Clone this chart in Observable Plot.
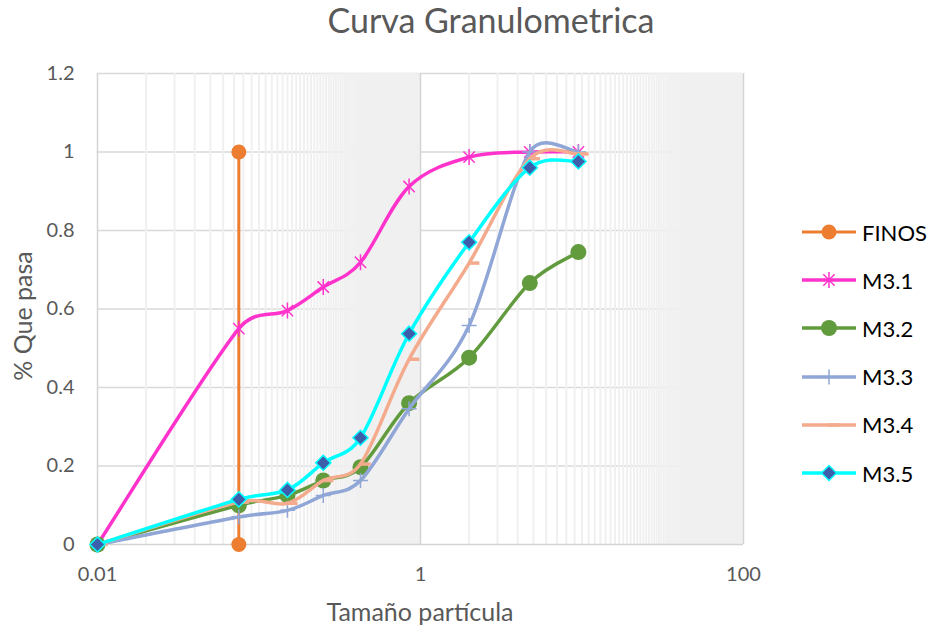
<!DOCTYPE html>
<html>
<head>
<meta charset="utf-8">
<script src="https://cdn.jsdelivr.net/npm/d3@7"></script>
<script src="https://cdn.jsdelivr.net/npm/@observablehq/plot@0.6"></script>
<style>
  body { margin: 0; background: #fff; }
  #chart { position: relative; width: 932px; height: 630px; font-family: Lato, "Open Sans", sans-serif; color: #595959; overflow: hidden; }
  #chart svg.main { position: absolute; left: 0; top: 0; }
  .title { position: absolute; top: -1px; left: 491px; transform: translateX(-50%); font-size: 34px; white-space: nowrap; }
  .xlabel { position: absolute; top: 596px; left: 420px; transform: translateX(-50%); font-size: 25px; white-space: nowrap; }
  .ylabel { position: absolute; left: 22px; top: 316px; transform: translate(-50%, -50%) rotate(-90deg); font-size: 25px; white-space: nowrap; }
  .legend-row { position: absolute; left: 802px; height: 24px; display: flex; align-items: center; color: #000; font-size: 22px; }
  .legend-row svg { display: block; margin-right: 6px; }
</style>
</head>
<body>
<div id="chart"></div>
<script>
// Sieve openings (mm) and fraction passing for each sample
const sizes = [0.01, 0.075, 0.15, 0.25, 0.425, 0.85, 2.0, 4.75, 9.5];
const m31 = [0, 0.55, 0.596, 0.656, 0.719, 0.912, 0.987, 1.0, 1.0];
const m32 = [0, 0.10, 0.125, 0.163, 0.197, 0.36, 0.476, 0.666, 0.745];
const m33 = [0, 0.07, 0.087, 0.125, 0.163, 0.346, 0.558, 1.0, 1.0];
const m34 = [0, 0.108, 0.105, 0.163, 0.205, 0.472, 0.717, 0.983, 0.995];
const m35 = [0, 0.115, 0.139, 0.208, 0.272, 0.537, 0.770, 0.960, 0.976];

// Fines boundary (No. 200 sieve)
const finosX = [0.075, 0.075];
const finosY = [1, 0];

const seriesNames = ["FINOS", "M3.1", "M3.2", "M3.3", "M3.4", "M3.5"];
const xTicks = [0.01, 1, 100];
const yTicks = [0, 0.2, 0.4, 0.6, 0.8, 1, 1.2];

// Minor log gridlines: every 1/100 of a major step
const minorTicks = [
  ...d3.range(2, 100).map(k => k * 0.01),
  ...d3.range(2, 100).map(k => k)
];

// Smoothed line: cubic Bézier through every point, tangent from the two
// neighbours, with each control arm limited to half of its segment.
function smoothCurve(context) {
  let pts = [];
  const dist = (p, q) => Math.hypot(q[0] - p[0], q[1] - p[1]);
  const limit = (t, lim) => {
    const L = Math.hypot(t[0], t[1]);
    const s = L > lim && L > 0 ? lim / L : 1;
    return [t[0] * s, t[1] * s];
  };
  return {
    areaStart() {}, areaEnd() {},
    lineStart() { pts = []; },
    point(x, y) { pts.push([+x, +y]); },
    lineEnd() {
      const n = pts.length;
      if (!n) return;
      context.moveTo(pts[0][0], pts[0][1]);
      if (n === 2) context.lineTo(pts[1][0], pts[1][1]);
      if (n < 3) return;
      const tan = pts.map((p, i) => {
        const a = pts[Math.max(i - 1, 0)], b = pts[Math.min(i + 1, n - 1)];
        return [(b[0] - a[0]) / 6, (b[1] - a[1]) / 6];
      });
      for (let i = 0; i < n - 1; i++) {
        const p = pts[i], q = pts[i + 1], d = dist(p, q);
        const a = limit(tan[i], 0.5 * d), b = limit(tan[i + 1], 0.5 * d);
        context.bezierCurveTo(p[0] + a[0], p[1] + a[1], q[0] - b[0], q[1] - b[1], q[0], q[1]);
      }
    }
  };
}

// Marker shapes
const asteriskSym = {
  draw(ctx, size) {
    const r = Math.sqrt(size / Math.PI), d = r / Math.SQRT2;
    ctx.moveTo(0, -r); ctx.lineTo(0, r);
    ctx.moveTo(-d, -d); ctx.lineTo(d, d);
    ctx.moveTo(-d, d); ctx.lineTo(d, -d);
  }
};
const plusSym = {
  draw(ctx, size) {
    const r = Math.sqrt(size / Math.PI);
    ctx.moveTo(0, -r); ctx.lineTo(0, r);
    ctx.moveTo(-r, 0); ctx.lineTo(r, 0);
  }
};
const dashSym = {
  draw(ctx, size) {
    const r = Math.sqrt(size / Math.PI);
    ctx.rect(-r * 0.2, -1.75, r * 1.9, 3.5);
  }
};

const styles = {
  "FINOS": {color: "#ED7D31", width: 3, symbol: "circle", r: 7.5, fill: "#ED7D31", stroke: "none"},
  "M3.1": {color: "#FF33CC", width: 3.5, symbol: asteriskSym, r: 8, fill: "none", stroke: "#FF33CC", sw: 1.5},
  "M3.2": {color: "#629B3E", width: 3.5, symbol: "circle", r: 8, fill: "#629B3E", stroke: "none"},
  "M3.3": {color: "#8FA6D6", width: 3.5, symbol: plusSym, r: 7.5, fill: "none", stroke: "#8FA6D6", sw: 1.5},
  "M3.4": {color: "#F4AA8C", width: 3.5, symbol: dashSym, r: 6, fill: "#F4AA8C", stroke: "none"},
  "M3.5": {color: "#00FFFF", width: 3.5, symbol: "diamond2", r: 6.8, fill: "#3D5FAB", stroke: "#00FFFF", sw: 1.5}
};

const table = {
  "FINOS": finosX.map((x, i) => ({x, y: finosY[i]})),
  "M3.1": sizes.map((x, i) => ({x, y: m31[i]})),
  "M3.2": sizes.map((x, i) => ({x, y: m32[i]})),
  "M3.3": sizes.map((x, i) => ({x, y: m33[i]})),
  "M3.4": sizes.map((x, i) => ({x, y: m34[i]})),
  "M3.5": sizes.map((x, i) => ({x, y: m35[i]}))
};

const seriesMarks = seriesNames.flatMap(name => {
  const s = styles[name];
  return [
    Plot.line(table[name], {x: "x", y: "y", stroke: s.color, strokeWidth: s.width,
      curve: name === "FINOS" ? "linear" : smoothCurve, strokeLinejoin: "round"}),
    Plot.dot(table[name], {x: "x", y: "y", symbol: s.symbol, r: s.r, fill: s.fill,
      stroke: s.stroke, strokeWidth: s.sw || 0})
  ];
});

const chart = Plot.plot({
  width: 932,
  height: 630,
  marginLeft: 97,
  marginRight: 189,
  marginTop: 73,
  marginBottom: 86,
  style: {fontFamily: "Lato, 'Open Sans', sans-serif", color: "#595959", background: "#fff"},
  x: {type: "log", domain: [0.01, 100]},
  y: {domain: [0, 1.2]},
  marks: [
    Plot.ruleY(yTicks.slice(1), {stroke: "#d9d9d9", strokeWidth: 1.3}),
    Plot.ruleX(minorTicks, {stroke: "#f0f0f0", strokeWidth: 2}),
    Plot.ruleX([1, 100], {stroke: "#d4d4d4", strokeWidth: 1.5}),
    Plot.ruleX([0.01], {stroke: "#d4d4d4", strokeWidth: 1.5}),
    Plot.ruleY([0], {stroke: "#d4d4d4", strokeWidth: 1.5}),
    Plot.axisX(xTicks, {tickSize: 0, tickPadding: 22, fontSize: 20, tickFormat: d => String(d), label: null}),
    Plot.axisY(yTicks, {tickSize: 0, tickPadding: 23, fontSize: 20, tickFormat: d => String(+d.toFixed(1)), label: null}),
    ...seriesMarks
  ]
});
chart.classList.add("main");

const root = document.getElementById("chart");
root.appendChild(chart);

const addText = (cls, text) => {
  const el = document.createElement("div");
  el.className = cls;
  el.textContent = text;
  root.appendChild(el);
};
addText("title", "Curva Granulometrica");
addText("xlabel", "Tamaño partícula");
addText("ylabel", "% Que pasa");

// Legend swatches
const symbolType = s => {
  if (typeof s.symbol !== "string") return s.symbol;
  return s.symbol === "circle" ? d3.symbolCircle : d3.symbolDiamond2;
};
seriesNames.forEach((name, i) => {
  const s = styles[name];
  const row = document.createElement("div");
  row.className = "legend-row";
  row.style.top = (232 + i * 48.2 - 12) + "px";
  const svg = d3.create("svg").attr("width", 54).attr("height", 24);
  svg.append("line").attr("x1", 0).attr("x2", 54).attr("y1", 12).attr("y2", 12)
    .attr("stroke", s.color).attr("stroke-width", s.width);
  svg.append("path")
    .attr("transform", "translate(27,12)")
    .attr("d", d3.symbol(symbolType(s), Math.PI * s.r * s.r)())
    .attr("fill", s.fill).attr("stroke", s.stroke).attr("stroke-width", s.sw || 0);
  row.appendChild(svg.node());
  const label = document.createElement("span");
  label.textContent = name;
  row.appendChild(label);
  root.appendChild(row);
});
</script>
</body>
</html>
